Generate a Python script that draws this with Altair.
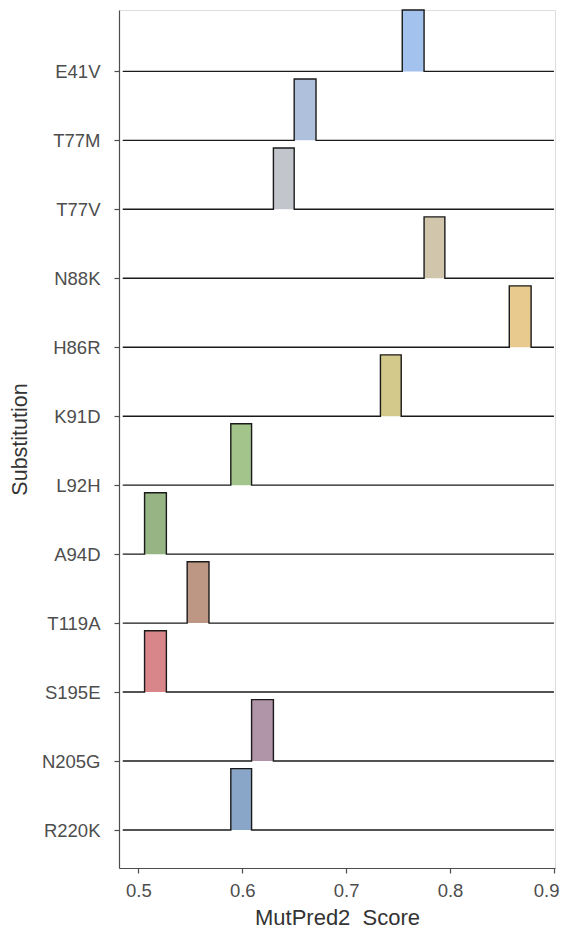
import altair as alt
import pandas as pd

# Substitutions, top to bottom
subs = ["E41V", "T77M", "T77V", "N88K", "H86R", "K91D",
        "L92H", "A94D", "T119A", "S195E", "N205G", "R220K"]
# Histogram bin edges (MutPred2 score) per substitution
bin_lo = [0.754, 0.650, 0.630, 0.775, 0.857, 0.733, 0.589, 0.506, 0.547, 0.506, 0.609, 0.589]
bin_hi = [0.775, 0.671, 0.650, 0.795, 0.878, 0.753, 0.609, 0.527, 0.568, 0.527, 0.630, 0.609]
fills = ["#a4c2ee", "#afc0dc", "#c3c5cc", "#d1c5ab", "#e8c98e", "#d3c98a",
         "#a3c48b", "#97b485", "#bd9783", "#d9868b", "#b094a8", "#89a6c9"]
x_ticks = [0.5, 0.6, 0.7, 0.8, 0.9]
line_start, line_end = 0.485, 0.9
bar_h = 0.89

n = len(subs)
rect_rows, line_rows = [], []
for i, s in enumerate(subs):
    base = n - 1 - i
    rect_rows.append({"sub": s, "lo": bin_lo[i], "hi": bin_hi[i],
                      "b": base, "t": base + bar_h})
    pts = [(line_start, base), (bin_lo[i], base), (bin_lo[i], base + bar_h),
           (bin_hi[i], base + bar_h), (bin_hi[i], base), (line_end, base)]
    for k, (px, py) in enumerate(pts):
        line_rows.append({"sub": s, "x": px, "y": py, "o": k})
rect_df = pd.DataFrame(rect_rows)
line_df = pd.DataFrame(line_rows)

label_arr = "[" + ",".join("'%s'" % s for s in subs[::-1]) + "]"

xscale = alt.Scale(domain=[0.4814, 0.901], nice=False, zero=False)
yscale = alt.Scale(domain=[-0.551, 11.89], nice=False, zero=False)

xaxis = alt.Axis(values=x_ticks, format=".1f", title="MutPred2\u00a0 Score", grid=False,
                 domainColor="#4d4d4d", domainWidth=1.2, tickColor="#4d4d4d", tickWidth=1.2,
                 tickSize=5, labelColor="#4d4d4d", labelFontSize=18.5, labelPadding=8,
                 labelFlush=5, labelFlushOffset=5,
                 titleFontSize=22, titleFontWeight="normal", titleColor="#333333",
                 titlePadding=8)
yaxis = alt.Axis(values=list(range(n)), labelExpr=label_arr + "[datum.value]",
                 title="Substitution", grid=False,
                 domainColor="#4d4d4d", domainWidth=1.2, tickColor="#4d4d4d", tickWidth=1.2,
                 tickSize=5, labelColor="#4d4d4d", labelFontSize=18.5, labelPadding=14,
                 titleFontSize=21.5, titleFontWeight="normal", titleColor="#333333",
                 titlePadding=10)

rects = alt.Chart(rect_df).mark_rect(opacity=1, strokeWidth=0).encode(
    x=alt.X("lo:Q", scale=xscale, axis=xaxis),
    x2="hi:Q",
    y=alt.Y("b:Q", scale=yscale, axis=yaxis),
    y2="t:Q",
    color=alt.Color("sub:N", scale=alt.Scale(domain=subs, range=fills), legend=None),
)

lines = alt.Chart(line_df).mark_line(color="#1a1a1a", strokeWidth=1.4, interpolate="linear").encode(
    x=alt.X("x:Q", scale=xscale),
    y=alt.Y("y:Q", scale=yscale),
    detail="sub:N",
    order="o:Q",
)

chart = alt.layer(rects, lines).properties(
    width=436, height=858,
    autosize=alt.AutoSizeParams(type="none"),
    padding={"left": 111, "top": 2, "right": 6, "bottom": 63},
).configure_view(stroke=None).configure(font="Liberation Sans")

chart.save("out.html", embed_options={"renderer": "svg", "actions": False})
